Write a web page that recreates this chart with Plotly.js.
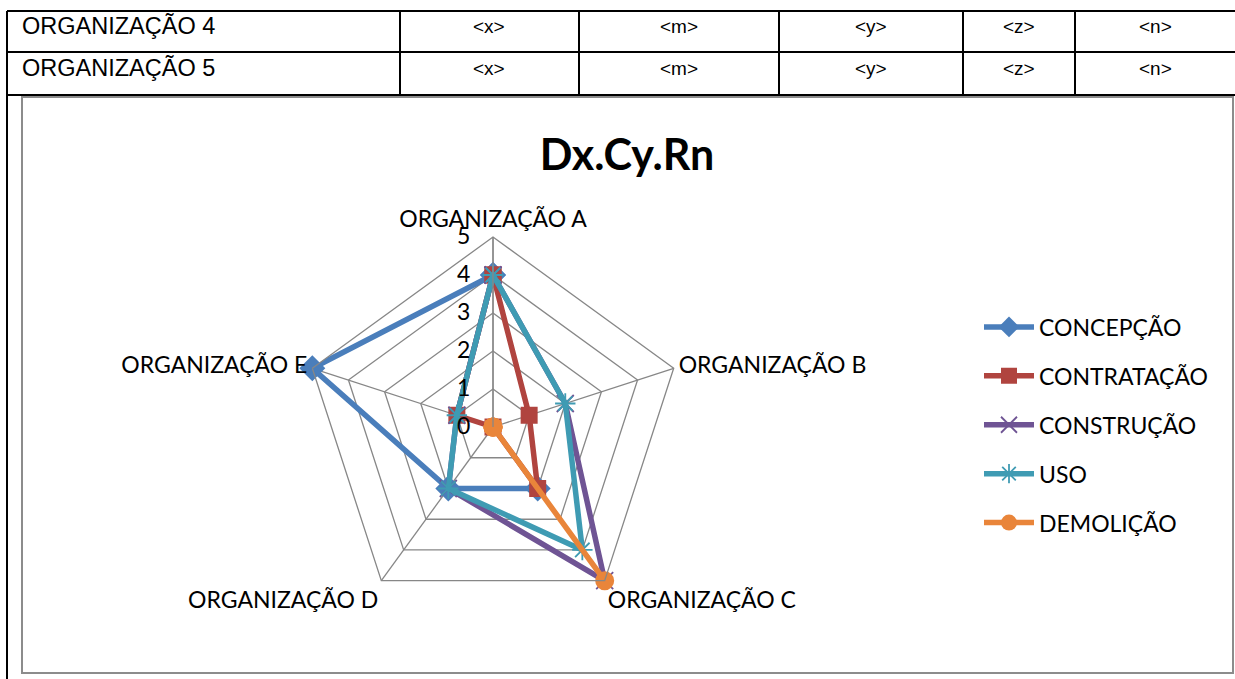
<!DOCTYPE html>
<html>
<head>
<meta charset="utf-8">
<script src="https://cdn.plot.ly/plotly-3.0.1.min.js"></script>
<style>html,body{margin:0;padding:0;background:#fff;}#chart{width:1235px;height:679px;}</style>
</head>
<body>
<div id="chart"></div>
<script>
// ---- data ----
const categories = ['ORGANIZAÇÃO A', 'ORGANIZAÇÃO B', 'ORGANIZAÇÃO C', 'ORGANIZAÇÃO D', 'ORGANIZAÇÃO E'];
const seriesNames = ['CONCEPÇÃO', 'CONTRATAÇÃO', 'CONSTRUÇÃO', 'USO', 'DEMOLIÇÃO'];
const concepcao   = [4, null, 2, 2, 5];
const contratacao = [4, 1, 2, 0, 1];
const construcao  = [4, 2, 5, 2, 1];
const uso         = [4, 2, 4, 2, 1];
const demolicao   = [0, 0, 5, 0, 0];
const tableRowLabels = ['ORGANIZAÇÃO 4', 'ORGANIZAÇÃO 5'];
const tableColLabels = ['<x>', '<m>', '<y>', '<z>', '<n>'];
const chartTitle = 'Dx.Cy.Rn';

// ---- styles ----
const W = 1235, H = 679;
const px = x => x / W;
const py = y => 1 - y / H;
const colors = ['#4a7ebb', '#b0443f', '#6f5494', '#3f9bb3', '#e9853a'];
const symbols = ['diamond', 'square', 'x-thin-open', 'asterisk-open', 'circle'];
const sizes = [20, 17, 17, 17, 19];
const allSeries = [concepcao, contratacao, construcao, uso, demolicao];
const labelFont = 'Lato, "Open Sans", sans-serif';
// Plotly hides markers lying exactly on the polar origin of a polygon grid;
// a negligible offset keeps value 0 visible at the centre.
const EPS = 1e-9;

const traces = allSeries.map((vals, i) => {
  const open = symbols[i].indexOf('open') >= 0;
  const r = vals.concat([vals[0]]).map(v => (v === 0 ? EPS : v));
  return {
    type: 'scatterpolar', name: seriesNames[i], legendgroup: 'g' + i,
    theta: categories.concat([categories[0]]), r: r,
    mode: 'lines+markers', connectgaps: false, cliponaxis: false,
    line: {color: colors[i], width: 5.5},
    marker: {
      symbol: symbols[i], size: sizes[i], color: colors[i],
      line: {color: colors[i], width: open ? 1.8 : 0}
    },
    hoverinfo: 'name+theta'
  };
});

// table geometry (pixels)
const colX = [7, 400, 579, 779, 963, 1075, 1235];
const rowY = [11, 52, 95];
const shapes = [];
const black = {color: '#000', width: 2};
rowY.forEach(y => shapes.push({type: 'line', xref: 'paper', yref: 'paper', x0: px(colX[0]), x1: px(colX[colX.length - 1]), y0: py(y), y1: py(y), line: black}));
colX.slice(1, -1).forEach(x => shapes.push({type: 'line', xref: 'paper', yref: 'paper', x0: px(x), x1: px(x), y0: py(rowY[0]), y1: py(rowY[2]), line: black}));
shapes.push({type: 'line', xref: 'paper', yref: 'paper', x0: px(7), x1: px(7), y0: py(rowY[0]), y1: py(679), line: black});
// chart border
shapes.push({type: 'rect', xref: 'paper', yref: 'paper', x0: px(22), x1: px(1233), y0: py(97), y1: py(673), line: {color: '#8c8c8c', width: 2}, fillcolor: 'rgba(0,0,0,0)'});

const annotations = [];
tableRowLabels.forEach((lab, r) => {
  const yc = (rowY[r] + rowY[r + 1]) / 2 - 5;
  annotations.push({xref: 'paper', yref: 'paper', x: px(20), y: py(yc), xanchor: 'left', yanchor: 'middle', text: lab, showarrow: false, font: {family: '"Liberation Sans", Arial, sans-serif', size: 23.5, color: '#000'}});
  tableColLabels.forEach((c, k) => {
    const xc = (colX[k + 1] + colX[k + 2]) / 2;
    annotations.push({xref: 'paper', yref: 'paper', x: px(xc), y: py(yc), xanchor: 'center', yanchor: 'middle', text: c.replace('<', '&lt;').replace('>', '&gt;'), showarrow: false, font: {family: '"Liberation Sans", Arial, sans-serif', size: 19, color: '#000'}});
  });
});

const gridCol = '#878787';
const layout = {
  width: W, height: H,
  margin: {l: 0, r: 0, t: 0, b: 0},
  paper_bgcolor: '#fff',
  title: {text: '<b>' + chartTitle + '</b>', x: px(627), y: py(155), xanchor: 'center', yanchor: 'middle', font: {family: labelFont, size: 43, color: '#000'}},
  showlegend: true,
  legend: {
    x: px(979), y: py(425), xanchor: 'left', yanchor: 'middle',
    font: {family: labelFont, size: 23, color: '#000'},
    tracegroupgap: 16, bgcolor: 'rgba(0,0,0,0)', itemwidth: 50
  },
  polar: {
    domain: {x: [px(303), px(683)], y: [py(617), py(237)]},
    gridshape: 'linear',
    bgcolor: 'rgba(0,0,0,0)',
    angularaxis: {
      type: 'category', rotation: 90, direction: 'clockwise',
      showline: true, linecolor: gridCol, linewidth: 1.3,
      gridcolor: gridCol, gridwidth: 1.3, ticks: '',
      tickfont: {family: labelFont, size: 23, color: '#000'}
    },
    radialaxis: {
      range: [0, 5], dtick: 1, angle: 90, tickangle: 90,
      showline: true, linecolor: gridCol, linewidth: 1.3,
      gridcolor: gridCol, gridwidth: 1.3,
      ticks: 'outside', ticklen: 14, tickcolor: 'rgba(0,0,0,0)',
      side: 'counterclockwise',
      tickfont: {family: labelFont, size: 23, color: '#000'}
    }
  },
  shapes: shapes,
  annotations: annotations
};

Plotly.newPlot('chart', traces, layout, {displayModeBar: false, staticPlot: true});
</script>
</body>
</html>
